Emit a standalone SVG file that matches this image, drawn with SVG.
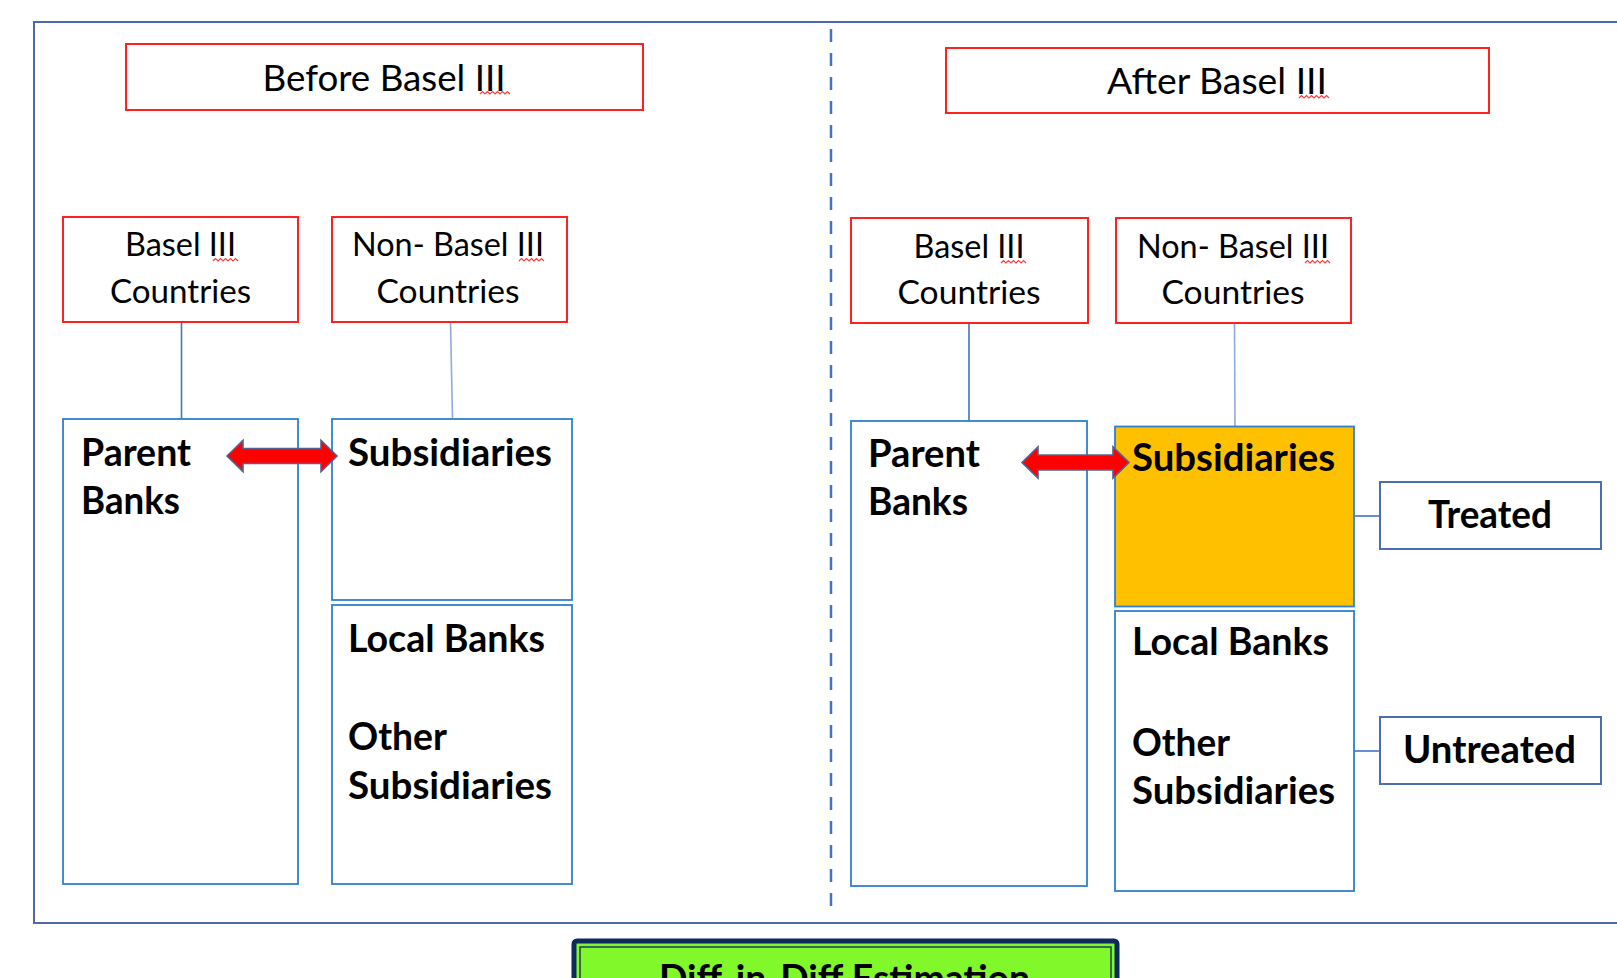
<svg xmlns="http://www.w3.org/2000/svg" width="1617" height="978" viewBox="0 0 1617 978">
<defs>
<style>
.red{fill:#fff;stroke:#ff2020;stroke-width:2}
.blue{fill:#fff;stroke:#2f80d0;stroke-width:1.8}
.orange{fill:#ffc000;stroke:#2f80d0;stroke-width:1.8}
.lab{fill:#fff;stroke:#4a6fb0;stroke-width:2}
.reg{font-family:Lato,"Liberation Sans",sans-serif;font-weight:400;fill:#000;text-anchor:middle}
.bold{font-family:Lato,"Liberation Sans",sans-serif;font-weight:700;font-size:38px;fill:#000}
.conn{stroke:#4472c4;stroke-width:1.6;fill:none}
.connl{stroke:#8faadc;stroke-width:1.6;fill:none}
.arrow{fill:#ff0000;stroke:#55608f;stroke-width:1.6;stroke-linejoin:miter}
.sq{fill:none;stroke:#ff3b3b;stroke-width:1.2}
</style>
</defs>
<rect width="1617" height="978" fill="#fff"/>
<g id="frame">
<rect x="34" y="22" width="1600" height="901" fill="none" stroke="#4d6ca6" stroke-width="2"/>
<line x1="831" y1="29" x2="831" y2="910" stroke="#4472c4" stroke-width="2.5" stroke-dasharray="13 11"/>
</g>
<g id="connectors">
<line class="conn" x1="181.5" y1="322" x2="181.5" y2="419"/>
<line class="connl" x1="450.5" y1="322" x2="452.5" y2="419"/>
<line class="conn" x1="969" y1="323" x2="969" y2="421"/>
<line class="connl" x1="1234.5" y1="323" x2="1235" y2="426"/>
<line class="conn" x1="1354" y1="516" x2="1380" y2="516"/>
<line class="conn" x1="1354" y1="751" x2="1380" y2="751"/>
</g>
<g id="before">
<rect class="red" x="126" y="44" width="517" height="66"/>
<text class="reg" x="384" y="91" font-size="37" textLength="243" lengthAdjust="spacingAndGlyphs">Before Basel III</text>
</g>
<g id="after">
<rect class="red" x="946" y="48" width="543" height="65"/>
<text class="reg" x="1217" y="94" font-size="37" textLength="220" lengthAdjust="spacingAndGlyphs">After Basel III</text>
</g>
<g id="basel-left">
<rect class="red" x="63" y="217" width="235" height="105"/>
<text class="reg" x="180.5" y="256" font-size="33" textLength="111" lengthAdjust="spacingAndGlyphs">Basel III</text>
<text class="reg" x="180.5" y="303" font-size="33" textLength="141" lengthAdjust="spacingAndGlyphs">Countries</text>
</g>
<g id="nonbasel-left">
<rect class="red" x="332" y="217" width="235" height="105"/>
<text class="reg" x="448" y="256" font-size="33" textLength="192" lengthAdjust="spacingAndGlyphs">Non- Basel III</text>
<text class="reg" x="448" y="303" font-size="33" textLength="143" lengthAdjust="spacingAndGlyphs">Countries</text>
</g>
<g id="basel-right">
<rect class="red" x="851" y="218" width="237" height="105"/>
<text class="reg" x="969" y="258" font-size="33" textLength="111" lengthAdjust="spacingAndGlyphs">Basel III</text>
<text class="reg" x="969" y="304" font-size="33" textLength="143" lengthAdjust="spacingAndGlyphs">Countries</text>
</g>
<g id="nonbasel-right">
<rect class="red" x="1116" y="218" width="235" height="105"/>
<text class="reg" x="1233" y="258" font-size="33" textLength="192" lengthAdjust="spacingAndGlyphs">Non- Basel III</text>
<text class="reg" x="1233" y="304" font-size="33" textLength="143" lengthAdjust="spacingAndGlyphs">Countries</text>
</g>
<g id="spellmarks">
<path class="sq" d="M480 94 l2.5 -2.5 l2.5 2.5 l2.5 -2.5 l2.5 2.5 l2.5 -2.5 l2.5 2.5 l2.5 -2.5 l2.5 2.5 l2.5 -2.5 l2.5 2.5 l2.5 -2.5 l2.5 2.5"/>
<path class="sq" d="M1299 98 l2.5 -2.5 l2.5 2.5 l2.5 -2.5 l2.5 2.5 l2.5 -2.5 l2.5 2.5 l2.5 -2.5 l2.5 2.5 l2.5 -2.5 l2.5 2.5 l2.5 -2.5 l2.5 2.5"/>
<path class="sq" d="M213 261 l2.5 -2.5 l2.5 2.5 l2.5 -2.5 l2.5 2.5 l2.5 -2.5 l2.5 2.5 l2.5 -2.5 l2.5 2.5 l2.5 -2.5 l2.5 2.5"/>
<path class="sq" d="M519 261 l2.5 -2.5 l2.5 2.5 l2.5 -2.5 l2.5 2.5 l2.5 -2.5 l2.5 2.5 l2.5 -2.5 l2.5 2.5 l2.5 -2.5 l2.5 2.5"/>
<path class="sq" d="M1001 263 l2.5 -2.5 l2.5 2.5 l2.5 -2.5 l2.5 2.5 l2.5 -2.5 l2.5 2.5 l2.5 -2.5 l2.5 2.5 l2.5 -2.5 l2.5 2.5"/>
<path class="sq" d="M1305 263 l2.5 -2.5 l2.5 2.5 l2.5 -2.5 l2.5 2.5 l2.5 -2.5 l2.5 2.5 l2.5 -2.5 l2.5 2.5 l2.5 -2.5 l2.5 2.5"/>
</g>
<g id="parent-left">
<rect class="blue" x="63" y="419" width="235" height="465"/>
<text class="bold" x="81" y="466" textLength="110" lengthAdjust="spacingAndGlyphs">Parent</text>
<text class="bold" x="81" y="514" textLength="99" lengthAdjust="spacingAndGlyphs">Banks</text>
</g>
<g id="subs-left">
<rect class="blue" x="332" y="419" width="240" height="181"/>
<text class="bold" x="348" y="466" textLength="204" lengthAdjust="spacingAndGlyphs">Subsidiaries</text>
</g>
<g id="local-left">
<rect class="blue" x="332" y="605" width="240" height="279"/>
<text class="bold" x="348" y="652" textLength="197" lengthAdjust="spacingAndGlyphs">Local Banks</text>
<text class="bold" x="348" y="750" textLength="99" lengthAdjust="spacingAndGlyphs">Other</text>
<text class="bold" x="348" y="799" textLength="204" lengthAdjust="spacingAndGlyphs">Subsidiaries</text>
</g>
<g id="parent-right">
<rect class="blue" x="851" y="421" width="236" height="465"/>
<text class="bold" x="868" y="467" textLength="112" lengthAdjust="spacingAndGlyphs">Parent</text>
<text class="bold" x="868" y="515" textLength="100" lengthAdjust="spacingAndGlyphs">Banks</text>
</g>
<g id="subs-right">
<rect class="orange" x="1115" y="426.5" width="239" height="180"/>
<text class="bold" x="1132" y="471" textLength="203" lengthAdjust="spacingAndGlyphs">Subsidiaries</text>
</g>
<g id="local-right">
<rect class="blue" x="1115" y="611" width="239" height="280"/>
<text class="bold" x="1132" y="655" textLength="197" lengthAdjust="spacingAndGlyphs">Local Banks</text>
<text class="bold" x="1132" y="756" textLength="98" lengthAdjust="spacingAndGlyphs">Other</text>
<text class="bold" x="1132" y="804" textLength="203" lengthAdjust="spacingAndGlyphs">Subsidiaries</text>
</g>
<g id="treated">
<rect class="lab" x="1380" y="482" width="221" height="67"/>
<text class="bold" x="1428" y="528" textLength="124" lengthAdjust="spacingAndGlyphs">Treated</text>
</g>
<g id="untreated">
<rect class="lab" x="1380" y="717" width="221" height="67"/>
<text class="bold" x="1403" y="763" textLength="173" lengthAdjust="spacingAndGlyphs">Untreated</text>
</g>
<g id="arrows">
<polygon class="arrow" points="227,456 243,440.5 243,448.5 321,448.5 321,440.5 337,456 321,471.5 321,463.5 243,463.5 243,471.5"/>
<polygon class="arrow" points="1022,462.5 1038,447 1038,455 1113,455 1113,447 1129,462.5 1113,478 1113,470 1038,470 1038,478"/>
</g>
<g id="did">
<rect x="574" y="941" width="543" height="60" rx="3" fill="#80f82a" stroke="#0e2a5c" stroke-width="5"/>
<rect x="580" y="947" width="531" height="50" fill="none" stroke="#1f3864" stroke-width="1.5"/>
<text class="bold" x="659" y="992" textLength="371" lengthAdjust="spacingAndGlyphs">Diff-in-Diff Estimation</text>
</g>
</svg>
